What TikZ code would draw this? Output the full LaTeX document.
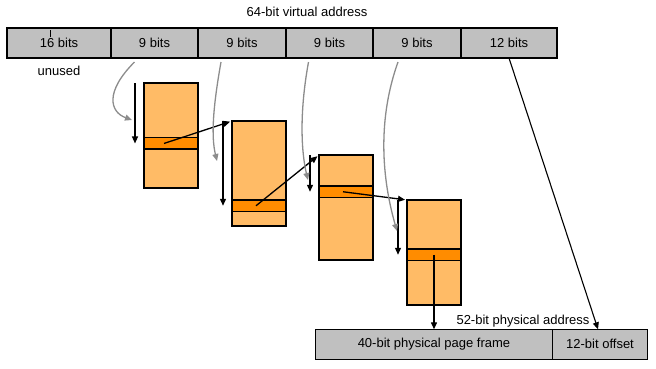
\documentclass[tikz,border=0pt]{standalone}
\usepackage{fontspec}
\setmainfont{Liberation Sans}
\usetikzlibrary{positioning, arrows.meta}
\definecolor{cellgray}{HTML}{C0C0C0}
\definecolor{tableorange}{HTML}{FFBB66}
\definecolor{entryorange}{HTML}{FF8C00}
\definecolor{walkgray}{HTML}{8C8C8C}

\begin{document}
\begin{tikzpicture}[x=1pt, y=-1pt, font=\fontsize{13}{15}\selectfont,
    cell/.style={draw, fill=cellgray, line width=1.3pt, minimum height=30pt,
                 inner sep=0pt, outer sep=0pt},
    pagetable/.style={draw, fill=tableorange, line width=2pt, minimum width=54pt,
                      minimum height=105pt, anchor=north west, inner sep=0pt, outer sep=0pt},
    entry/.style={draw, fill=entryorange, line width=1.5pt, minimum width=54pt,
                  minimum height=11.5pt, inner sep=0pt, outer sep=0pt},
    walk/.style={walkgray, line width=1.3pt, -{Triangle[length=7pt, width=6pt]}},
    link/.style={line width=1.3pt, -{Triangle[length=7pt, width=6pt]}}]
  \useasboundingbox (0,0) rectangle (656,368);

  % virtual address
  \node (vtitle) at (307,12) {64-bit virtual address};
  \node[cell, minimum width=104pt, anchor=west] (c1) at (7,43) {16 bits};
  \node[cell, minimum width=87pt, right=0pt of c1] (c2) {9 bits};
  \node[cell, minimum width=88pt, right=0pt of c2] (c3) {9 bits};
  \node[cell, minimum width=87pt, right=0pt of c3] (c4) {9 bits};
  \node[cell, minimum width=88pt, right=0pt of c4] (c5) {9 bits};
  \node[cell, minimum width=96pt, right=0pt of c5] (c6) {12 bits};
  \draw[line width=0.6pt] ([xshift=-9pt, yshift=-2pt]c1.north) -- ++(0,7);
  \node[below=5pt of c1] (unused) {unused};

  % page tables
  \node[pagetable] (t1) at (144,83) {};
  \node[pagetable] (t2) at (232,121) {};
  \node[pagetable] (t3) at (319,155) {};
  \node[pagetable] (t4) at (407,200) {};
  \node[entry, below=54.7pt of t1.north] (b1) {};
  \node[entry, below=79pt of t2.north] (b2) {};
  \node[entry, below=31pt of t3.north] (b3) {};
  \node[entry, below=49pt of t4.north] (b4) {};

  % physical address
  \node[cell, minimum width=236.6pt, anchor=north west] (p1) at (315.7,329.3) {40-bit physical page frame};
  \node[cell, minimum width=95.4pt, right=0pt of p1] (p2) {12-bit offset};
  \node (ptitle) at (523,320.7) {52-bit physical address};

  % index arrows
  \coordinate[left=9pt of t1.north west] (d1);
  \coordinate[left=9pt of t2.north west] (d2);
  \coordinate[left=9pt of t3.north west] (d3);
  \coordinate[left=9pt of t4.north west] (d4);
  \draw[link] (d1) -- (d1 |- b1);
  \draw[link] (d2) -- (d2 |- b2);
  \draw[link] (d3) -- (d3 |- b3);
  \draw[link] (d4) -- (d4 |- b4);

  % table to table
  \draw[link, shorten >=2pt] ([xshift=-7pt]b1.center) -- (t2.north west);
  \draw[link, shorten >=2pt] ([xshift=-3pt]b2.center) -- (t3.north west);
  \draw[link, shorten >=2pt] ([xshift=-3pt]b3.center) -- (t4.north west);
  \draw[link] (b4.center) -- (b4.center |- p1.north);
  \draw[link, line width=1.1pt] (c6.south) -- ([xshift=-2pt]p2.north);

  % index fields
  \coordinate[below left=4pt and 20pt of c2.south] (w1);
  \coordinate[below left=4pt and 21pt of c3.south] (w2);
  \coordinate[below left=4pt and 21pt of c4.south] (w3);
  \coordinate[below left=4pt and 19pt of c5.south] (w4);
  \coordinate[below left=37pt and 3pt of d1] (e1);
  \coordinate[below left=40pt and 6pt of d2] (e2);
  \coordinate[below left=25pt and 2pt of d3] (e3);
  \coordinate[below left=31pt and 1pt of d4] (e4);
  \draw[walk] (w1) .. controls +(-30,30) and +(-22,-8) .. (e1);
  \draw[walk] (w2) .. controls +(-8,45) and +(-6,-25) .. (e2);
  \draw[walk] (w3) .. controls +(-10,55) and +(-6,-25) .. (e3);
  \draw[walk] (w4) .. controls +(-25,70) and +(-10,-35) .. (e4);
\end{tikzpicture}
\end{document}
